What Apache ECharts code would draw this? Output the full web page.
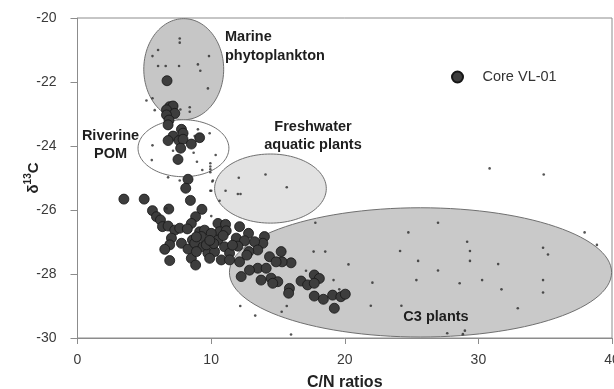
<!DOCTYPE html>
<html>
<head>
<meta charset="utf-8">
<script src="https://cdn.jsdelivr.net/npm/echarts@6/dist/echarts.min.js"></script>
<style>
  html, body { margin: 0; padding: 0; background: #fff; }
  #chart { width: 614px; height: 389px; }
</style>
</head>
<body>
<div id="chart"></div>
<script>
// Axis settings
const xTicks = { min: 0, max: 40, interval: 10 };
const yTicks = { min: -30, max: -20, interval: 2 };

// Source end-member fields: centre (C/N, d13C) and half-widths
const regionNames = ['C3 plants', 'Freshwater aquatic plants', 'Marine phytoplankton', 'Riverine POM'];
const regionCx = [25.67, 14.44, 7.95, 7.93];
const regionCy = [-27.95, -25.33, -21.6, -24.07];
const regionRx = [14.3, 4.18, 2.99, 3.4];
const regionRy = [2.02, 1.08, 1.58, 0.89];
const regionFill = ['#c9c9c9', '#e2e2e2', '#c6c6c6', '#ffffff'];

// Core VL-01 samples [C/N, d13C]
const coreVL01 = [
  [6.7, -21.96], [6.9, -22.77], [7.15, -22.75], [6.66, -22.87], [7.28, -22.98],
  [6.66, -23.03], [6.85, -23.19], [6.78, -23.34], [7.78, -23.48], [7.9, -23.6],
  [7.15, -23.69], [6.78, -23.83], [7.6, -23.83], [7.9, -23.79], [8.52, -23.94],
  [7.72, -24.07], [7.52, -24.42], [8.27, -25.04], [8.1, -25.32], [8.45, -25.7],
  [3.47, -25.66], [4.99, -25.66], [6.83, -25.97], [9.31, -25.98], [5.61, -26.02],
  [5.91, -26.21], [6.21, -26.31], [8.84, -26.21], [8.52, -26.42], [6.36, -26.52],
  [6.78, -26.5], [7.28, -26.63], [7.65, -26.57], [8.22, -26.59], [9.14, -26.68],
  [9.51, -26.63], [10.51, -26.42], [11.08, -26.45], [12.13, -26.52], [10.63, -26.68],
  [10.01, -26.73], [11.13, -26.65], [9.27, -26.83], [7.03, -26.88], [7.78, -27.04],
  [8.6, -26.94], [6.9, -27.09], [6.53, -27.23], [8.27, -27.22], [8.77, -27.04],
  [9.39, -27.15], [9.76, -27.35], [8.52, -27.51], [8.84, -27.72], [6.9, -27.58],
  [12.8, -26.73], [13.99, -26.83], [13.87, -27.04], [10.51, -26.94], [11.88, -26.88],
  [12.5, -26.96], [13.25, -26.99], [9.64, -27.09], [11.0, -27.15], [12.0, -27.13],
  [13.49, -27.25], [15.24, -27.3], [8.9, -27.3], [10.26, -27.3], [11.38, -27.35],
  [12.82, -27.3], [14.37, -27.46], [15.98, -27.65], [10.76, -27.56], [12.13, -27.62],
  [13.49, -27.82], [12.87, -27.88], [14.12, -27.82], [14.49, -28.13], [12.25, -28.08],
  [13.74, -28.19], [14.99, -28.24], [15.86, -28.45], [15.8, -28.6], [12.67, -27.41],
  [9.89, -27.51], [11.38, -27.56], [15.31, -27.62], [14.86, -27.62], [14.61, -28.29],
  [16.73, -28.22], [17.22, -28.34], [17.72, -28.03], [18.1, -28.14], [17.72, -28.29],
  [17.72, -28.69], [18.4, -28.79], [19.09, -28.66], [19.71, -28.71], [20.04, -28.63],
  [19.22, -29.07], [8.9, -26.84], [10.2, -27.05], [9.9, -26.95], [11.6, -27.1],
  [10.9, -26.8]
];
const coreVL01Top = [[9.14, -23.74]];

// Published end-member values [C/N, d13C]
const literature = [
  [7.65, -20.64], [7.65, -20.77], [6.03, -21.0], [5.61, -21.19], [9.84, -21.19],
  [6.03, -21.5], [6.6, -21.5], [7.6, -21.5], [9.01, -21.45], [9.19, -21.65],
  [9.76, -22.2], [5.16, -22.58], [5.61, -22.51], [5.78, -22.88], [8.4, -22.79],
  [8.4, -22.93], [7.7, -22.86],
  [9.01, -23.48], [9.89, -23.6], [8.77, -23.69], [5.61, -23.98], [7.15, -24.15],
  [8.69, -24.21], [10.34, -24.28], [5.56, -24.44], [8.94, -24.49], [9.94, -24.54],
  [9.94, -24.64], [9.94, -24.73], [9.34, -24.75], [6.78, -24.98], [7.65, -25.08],
  [10.09, -25.11], [9.94, -25.4], [9.94, -24.82],
  [12.07, -24.99], [14.07, -24.89], [15.66, -25.29], [11.08, -25.4], [12.0, -25.5],
  [12.2, -25.5], [10.13, -25.08], [10.01, -25.4], [10.63, -25.71], [10.01, -26.19],
  [17.8, -26.4], [6.66, -25.95],
  [12.18, -29.0], [13.3, -29.3], [15.66, -29.0], [15.28, -29.18], [15.98, -29.89],
  [17.1, -27.9], [17.67, -27.3], [18.54, -27.3], [20.28, -27.7], [19.16, -28.19],
  [19.59, -28.48], [22.07, -28.27], [21.95, -28.99],
  [26.98, -26.4], [24.76, -26.7], [29.16, -26.99], [24.14, -27.28], [29.37, -27.28],
  [34.84, -27.18], [35.21, -27.39], [37.95, -26.7], [38.87, -27.09], [25.49, -27.59],
  [29.37, -27.59], [31.48, -27.69], [26.98, -27.89], [25.36, -28.19], [28.6, -28.29],
  [30.28, -28.19], [34.84, -28.19], [31.73, -28.48], [34.84, -28.58], [24.24, -28.99],
  [32.95, -29.07], [27.67, -29.85], [28.84, -29.88], [28.99, -29.77],
  [30.84, -24.7], [34.89, -24.89]
];

const FONT = '"Liberation Sans", Arial, sans-serif';

const regionData = regionNames.map((n, i) => ({
  name: n,
  value: [regionCx[i], regionCy[i], regionRx[i], regionRy[i]],
  fill: regionFill[i]
}));

const chart = echarts.init(document.getElementById('chart'), null, { renderer: 'canvas' });

chart.setOption({
  animation: false,
  backgroundColor: '#ffffff',
  textStyle: { fontFamily: FONT },
  grid: {
    left: 77.5, right: 2, top: 18, bottom: 51,
    outerBoundsMode: 'none', containLabel: false,
    show: true, borderColor: '#8c8c8c', borderWidth: 1, backgroundColor: 'transparent'
  },
  legend: {
    data: ['Core VL-01'],
    icon: 'circle',
    left: 451, top: 69.5, padding: 0,
    itemWidth: 40, itemHeight: 11,
    textStyle: { fontFamily: FONT, fontSize: 14.5, color: '#333' }
  },
  xAxis: {
    type: 'value', min: xTicks.min, max: xTicks.max, interval: xTicks.interval,
    name: 'C/N ratios', nameLocation: 'middle', nameGap: 37, nameMoveOverlap: false,
    nameTextStyle: { fontFamily: FONT, fontSize: 16, fontWeight: 'bold', color: '#222' },
    axisLine: { lineStyle: { color: '#8c8c8c', width: 1 } },
    axisTick: { inside: false, length: 6, lineStyle: { color: '#8c8c8c' } },
    axisLabel: { margin: 15, fontFamily: FONT, fontSize: 14, color: '#3a3a3a' },
    splitLine: { show: false }
  },
  yAxis: {
    type: 'value', min: yTicks.min, max: yTicks.max, interval: yTicks.interval,
    name: '{a|δ}{b|13}{a|C}', nameLocation: 'middle', nameGap: 36, nameRotate: 90,
    nameMoveOverlap: false,
    nameTextStyle: {
      rich: {
        a: { fontFamily: FONT, fontSize: 15, fontWeight: 'bold', color: '#222', lineHeight: 18, verticalAlign: 'bottom' },
        b: { fontFamily: FONT, fontSize: 10, fontWeight: 'bold', color: '#222', lineHeight: 18, verticalAlign: 'top' }
      }
    },
    axisLine: { show: true, lineStyle: { color: '#8c8c8c', width: 1 } },
    axisTick: { show: true, inside: false, length: 7, lineStyle: { color: '#8c8c8c' } },
    axisLabel: { margin: 21, fontFamily: FONT, fontSize: 14, color: '#3a3a3a' },
    splitLine: { show: false }
  },
  series: [
    {
      name: 'fields',
      type: 'custom',
      silent: true,
      z: 1,
      encode: { x: 0, y: 1 },
      data: regionData,
      renderItem: function (params, api) {
        const item = regionData[params.dataIndex];
        const c = api.coord([api.value(0), api.value(1)]);
        const s = api.size([api.value(2), api.value(3)]);
        const pts = [];
        const n = 120;
        for (let k = 0; k < n; k++) {
          const t = 2 * Math.PI * k / n;
          pts.push([c[0] + s[0] * Math.cos(t), c[1] + s[1] * Math.sin(t)]);
        }
        return {
          type: 'polygon',
          shape: { points: pts },
          style: { fill: item.fill, stroke: '#707070', lineWidth: 1 }
        };
      }
    },
    {
      name: 'Core VL-01',
      type: 'scatter',
      z: 3,
      symbol: 'circle',
      symbolSize: 10,
      itemStyle: { color: '#3d3d3d', borderColor: '#161616', borderWidth: 0.8, opacity: 1 },
      data: coreVL01
    },
    {
      name: 'Core VL-01 top',
      type: 'scatter',
      z: 3,
      symbolSize: 10,
      itemStyle: { color: '#080808', borderColor: '#000', borderWidth: 0.8 },
      data: coreVL01Top
    },
    {
      name: 'Literature',
      type: 'scatter',
      z: 4,
      symbolSize: 2.6,
      itemStyle: { color: '#2a2a2a' },
      data: literature
    }
  ],
  graphic: [
    {
      type: 'text', x: 225, y: 27, z: 10, silent: true,
      style: { text: 'Marine\nphytoplankton', font: 'bold 14.5px ' + FONT, fill: '#1e1e1e', align: 'left', verticalAlign: 'top', lineHeight: 19 }
    },
    {
      type: 'text', x: 110.5, y: 126.5, z: 10, silent: true,
      style: { text: 'Riverine\nPOM', font: 'bold 14.5px ' + FONT, fill: '#1e1e1e', align: 'center', verticalAlign: 'top', lineHeight: 18 }
    },
    {
      type: 'text', x: 313, y: 117.5, z: 10, silent: true,
      style: { text: 'Freshwater\naquatic plants', font: 'bold 14.5px ' + FONT, fill: '#1e1e1e', align: 'center', verticalAlign: 'top', lineHeight: 18 }
    },
    {
      type: 'text', x: 436, y: 308, z: 10, silent: true,
      style: { text: 'C3 plants', font: 'bold 14.5px ' + FONT, fill: '#1e1e1e', align: 'center', verticalAlign: 'top', lineHeight: 18 }
    }
  ]
});
</script>
</body>
</html>
